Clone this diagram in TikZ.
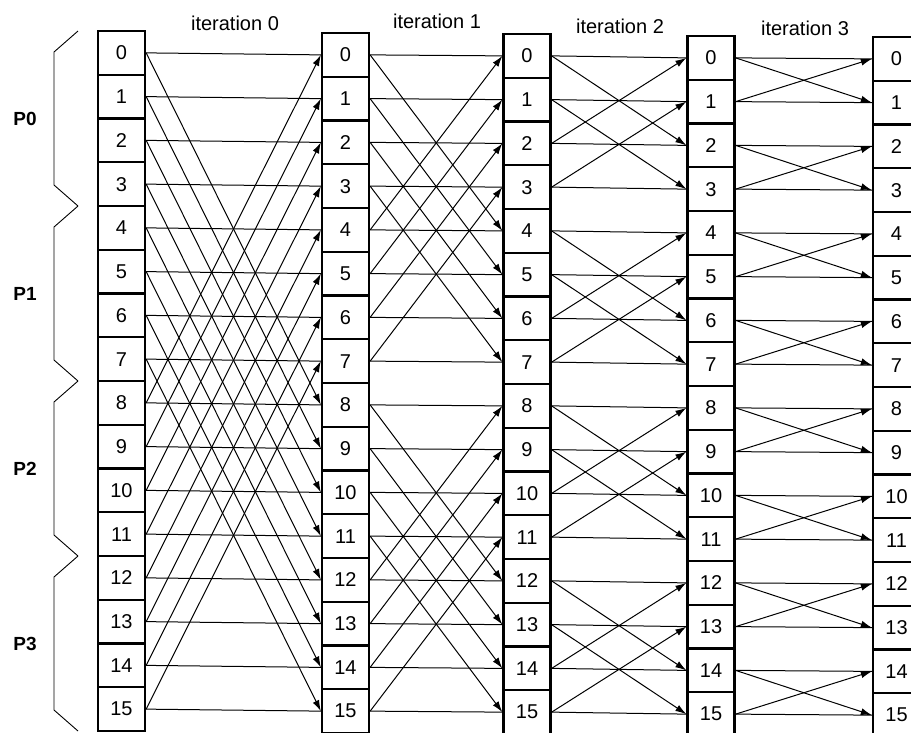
\documentclass[tikz,border=0pt]{standalone}
\usepackage{fontspec}
\setmainfont{Liberation Sans}
\usetikzlibrary{arrows.meta}

\tikzset{
  cell/.style={draw, line width=2.3pt, minimum width=47pt, minimum height=43.75pt,
    inner sep=0pt, font=\fontsize{20}{20}\selectfont},
  link/.style={line width=1pt},
  cross/.style={link, -{Latex[length=11pt,width=7pt]}},
  brace/.style={line width=0.9pt},
}

\begin{document}
\begin{tikzpicture}[x=1pt,y=-1pt]
\clip (0,0) rectangle (911,732);
% columns of cells
\foreach \c/\x/\t in {0/121.5/31,1/345.5/33,2/527/34,3/711/36,4/896.5/37}{
  \foreach \r in {0,...,15}{
    \node [cell] (c\c-\r) at (\x,\t+21.875+43.75*\r) {\r};
  }
}
% butterfly connections
\foreach \k in {0,...,3}{
  \pgfmathtruncatemacro\n{\k+1}
  \pgfmathtruncatemacro\s{2^(3-\k)}
  \foreach \i in {0,...,15}{
    \pgfmathtruncatemacro\j{mod(floor(\i/\s),2)==0 ? \i+\s : \i-\s}
    \draw [link] (c\k-\i.east) -- (c\n-\i.west);
    \draw [cross] (c\k-\i.east) -- (c\n-\j.west);
  }
}
% processor braces
\foreach \g in {0,...,3}{
  \pgfmathsetmacro\ytop{31+175*\g}
  \draw [brace] (78,\ytop) -- (54,\ytop+21) -- (54,\ytop+154) -- (78,\ytop+175);
  \node [font=\bfseries\fontsize{19}{19}\selectfont] (p\g) at (25,\ytop+87.5) {P\g};
}
% iteration labels
\foreach \k/\x/\y in {0/235/23,1/437/21,2/620/26,3/805/28}
  \node [font=\fontsize{20}{20}\selectfont] (it\k) at (\x,\y) {iteration \k};
\end{tikzpicture}
\end{document}
